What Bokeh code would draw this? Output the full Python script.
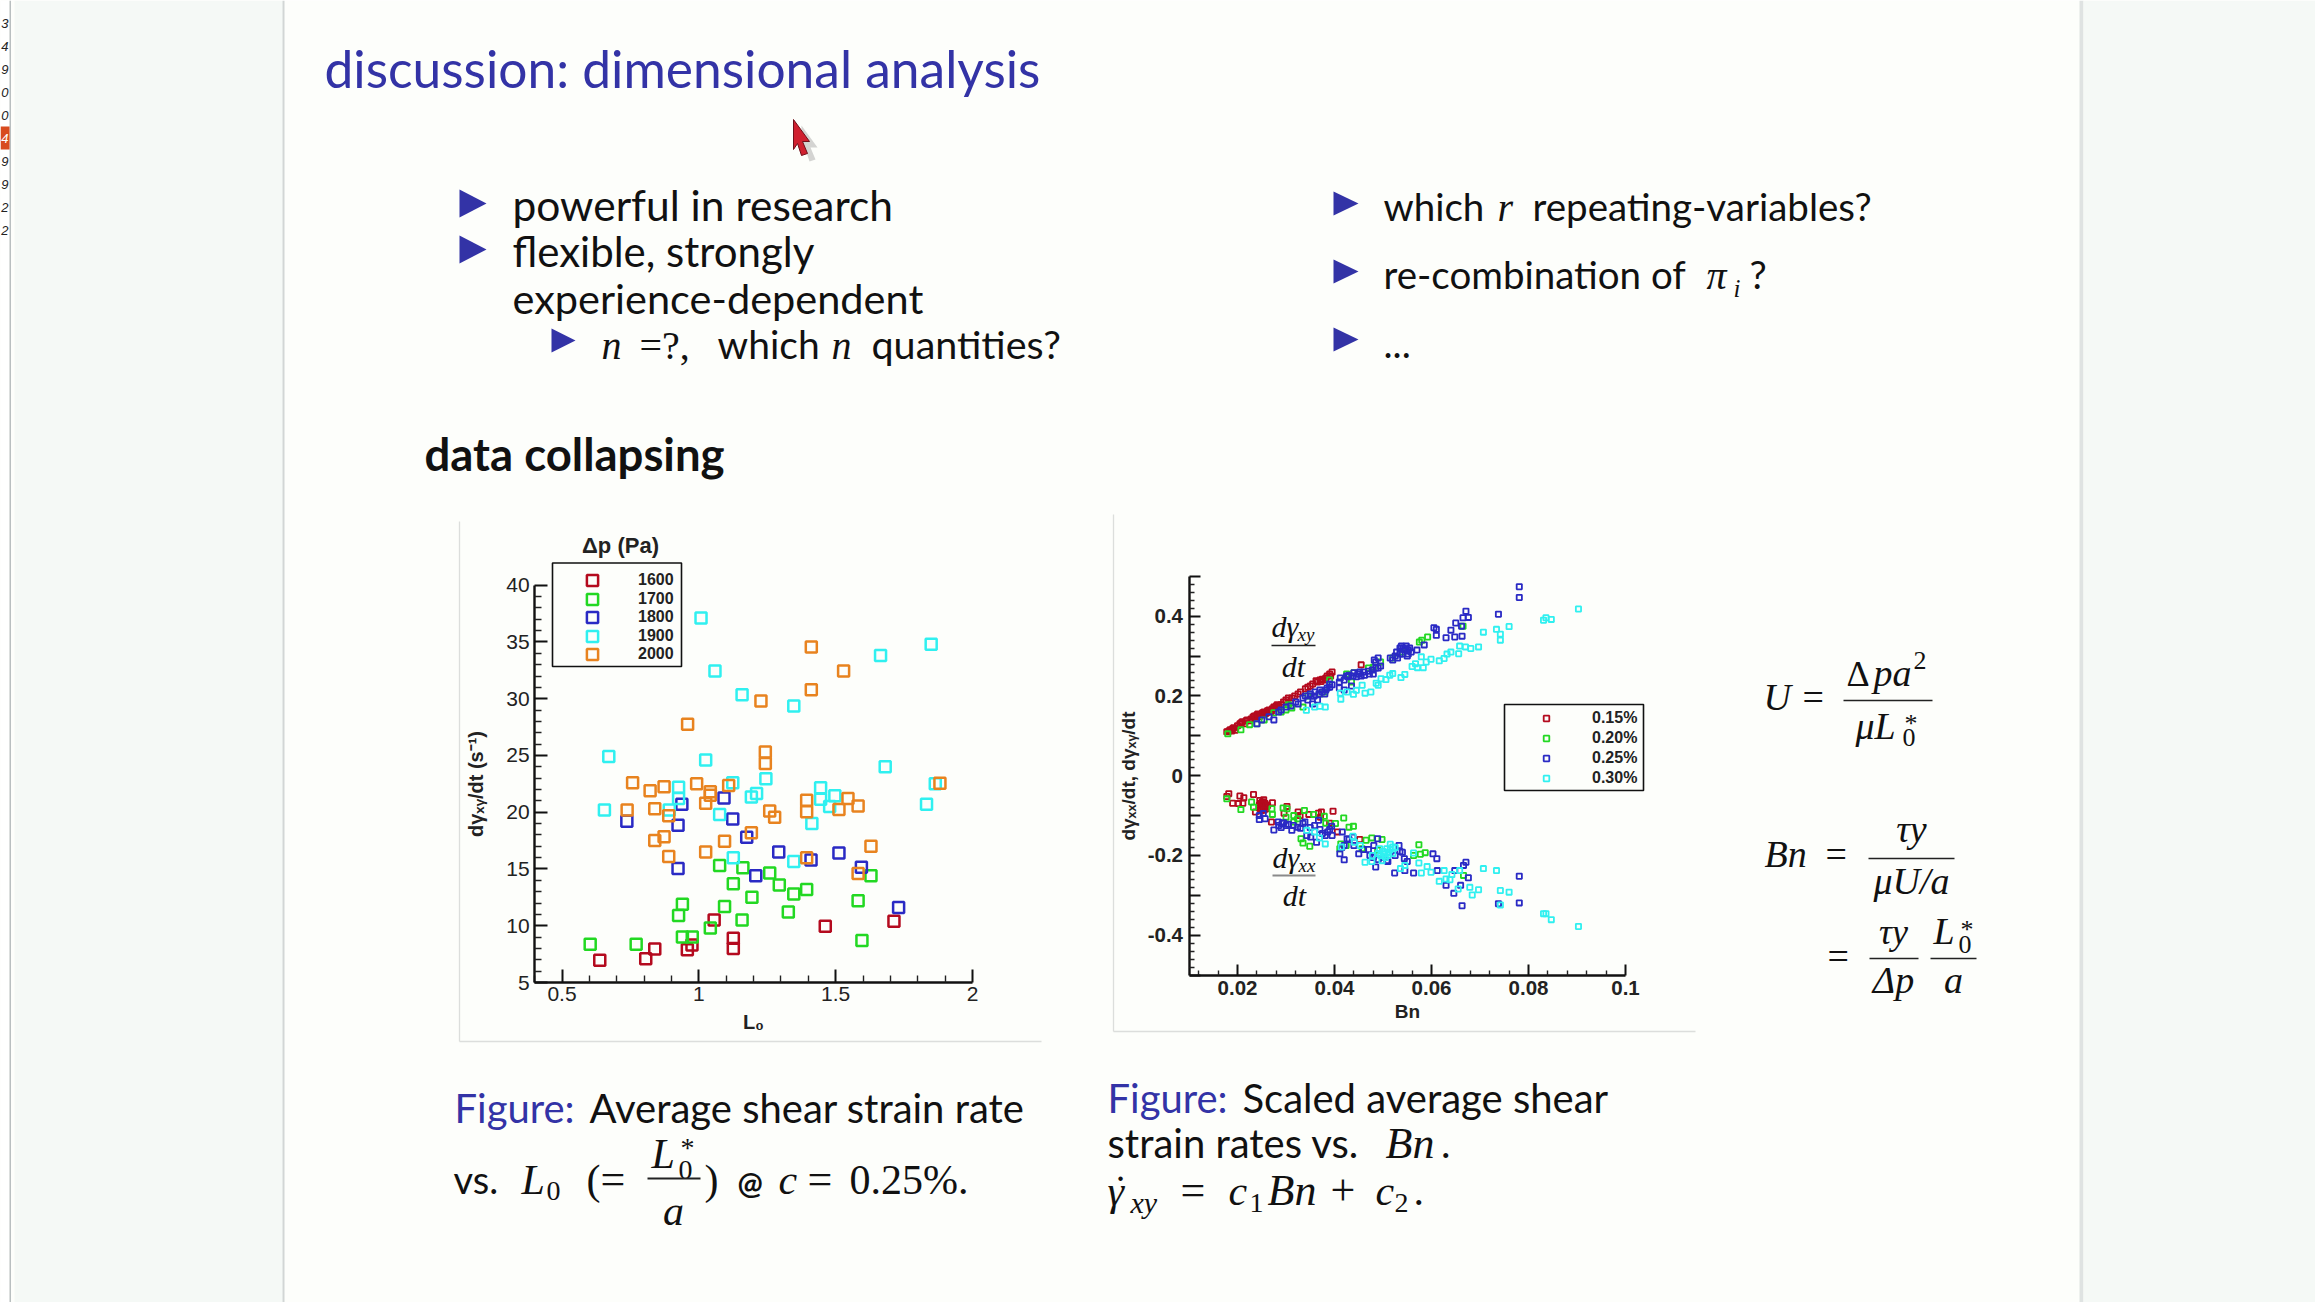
from bokeh.plotting import figure
from bokeh.embed import file_html
from bokeh.resources import INLINE
from bokeh.core.properties import value
from bokeh.models import Range1d, LinearAxis, FixedTicker, Legend, LegendItem

# ---------- chart 1 data ----------
series1_names = ["1600", "1700", "1800", "1900", "2000"]
red_L0 = [.638,.806,.839,.958,.975,1.056,1.126,1.126,1.462,1.713]
red_rate = [6.97,7.1,7.95,7.88,8.3,10.5,8.9,8.0,9.95,10.4]
green_L0 = [.603,.771,.926,.94,.94,.976,1.042,1.094,1.158,1.194,1.076,1.126,1.161,1.259,1.294,1.347,1.327,1.394,1.582,1.596,1.629]
green_rate = [8.38,8.38,10.9,11.9,9.0,9.0,9.8,11.7,10.5,12.5,15.3,13.7,15.1,14.65,13.6,12.8,11.2,13.2,12.2,8.7,14.4]
blue_L0 = [.737,.924,.938,.924,1.092,1.124,1.175,1.208,1.292,1.41,1.512,1.594,1.73]
blue_rate = [19.2,18.85,20.7,15.05,21.25,19.4,17.8,14.4,16.5,15.8,16.4,15.15,11.6]
cyan_L0 = [.655,.671,.926,.926,.892,1.008,1.059,1.025,1.076,1.124,1.126,1.158,1.192,1.211,1.245,1.347,1.347,1.413,1.445,1.445,1.478,1.497,1.664,1.681,1.832,1.849,1.864]
cyan_rate = [20.2,24.9,22.2,21.2,20.2,37.1,32.45,24.6,19.8,22.6,16,30.35,21.35,21.65,22.95,29.35,15.65,19,22.15,21.15,20.5,21.45,33.8,24,20.7,34.8,22.5]
orange_L0 = [.738,.758,.822,.839,.839,.873,.873,.89,.89,.959,.992,1.025,1.042,1.042,1.094,1.025,1.109,1.192,1.227,1.243,1.243,1.259,1.277,1.394,1.394,1.394,1.411,1.411,1.512,1.529,1.545,1.582,1.582,1.629,1.881]
orange_rate = [20.2,22.6,21.9,20.3,17.5,22.25,17.85,19.7,16.1,27.75,22.5,20.8,21.8,21.5,17.45,16.5,22.35,18.2,29.8,25.3,24.3,20.1,19.55,21.05,20.05,16,34.55,30.8,20.25,32.45,21.2,20.55,14.6,17,22.55]

# ---------- chart 2 data ----------
series2_names = ["0.15%", "0.20%", "0.25%", "0.30%"]
red_bn = [.0178,.0185,.019,.0195,.0205,.021,.0215,.022,.0225,.0235,.024,.0245,.025,.0255,.026,.0265,.027,.0275,.028,.0285,.0295,.030,.0305,.0325,.0345,.0365,.037,.0375,.038,.0385,.039,.0395,.0455,
          .0182,.0188,.0192,.02,.0208,.0218,.0228,.0232,.0238,.0242,.0248,.0252,.0258,.0262,.0268,.0272,.0278,.0282,.029,.03,.0312,.0318,.033,.034,.035,.0355,.0362,.0372,.0382,.0392,
          .0178,.0182,.019,.0205,.0202,.0213,.0211,.0233,.0237,.0246,.0253,.0245,.0257,.0249,.0259,.0254,.0272,.027,.0296,.0302,.0325,.0329,.0347,.0367,.0373,.0397,.039,.0406,.0452,.0371,
          .0248,.0252,.0256,.0251,.0258,.0262,.0245,.0249,.0255]
red_gamma = [.11,.115,.118,.114,.13,.135,.13,.14,.138,.15,.152,.148,.155,.16,.158,.165,.162,.172,.175,.172,.185,.19,.195,.205,.222,.235,.24,.242,.24,.25,.255,.26,.278,
             .112,.112,.12,.125,.133,.138,.142,.147,.148,.155,.152,.158,.156,.163,.16,.168,.17,.178,.178,.185,.195,.2,.21,.218,.225,.23,.238,.236,.245,.25,
             -.052,-.045,-.069,-.051,-.07,-.055,-.069,-.047,-.091,-.062,-.066,-.074,-.07,-.083,-.083,-.06,-.068,-.116,-.094,-.077,-.091,-.1,-.097,-.094,-.091,-.089,-.119,-.141,-.16,-.104,
             -.07,-.078,-.072,-.066,-.078,-.075,-.081,-.088,-.086]
green_bn = [.018,.0207,.0225,.024,.0255,.0275,.029,.030,.0312,.0305,.0335,.0345,.037,.038,.039,.0425,.0435,.044,.047,.048,.0495,.0575,.058,.0592,.0665,.052,.054,
            .0178,.0207,.0229,.0233,.0271,.0272,.0294,.0302,.03,.0316,.0324,.0338,.0331,.0335,.0349,.0357,.0379,.0382,.0402,.0419,.043,.0439,.0413,.0411,.0424,.0465,.0477,.0498,.0574,.0577,.0587,.0563,.0666,.0457,.0489,.0316]
green_gamma = [.105,.115,.128,.13,.14,.158,.16,.165,.17,.178,.172,.2,.205,.21,.24,.255,.235,.258,.27,.272,.285,.335,.34,.348,.375,.295,.31,
               -.058,-.085,-.066,-.079,-.083,-.097,-.081,-.083,-.104,-.1,-.108,-.087,-.158,-.169,-.177,-.097,-.102,-.119,-.12,-.106,-.129,-.127,-.171,-.183,-.175,-.162,-.156,-.16,-.173,-.197,-.193,-.2,-.25,-.183,-.187,-.116]
blue_bn = [.024,.025,.0265,.0275,.0285,.029,.03,.031,.032,.0335,.034,.035,.0355,.036,.0365,.037,.038,.0385,.039,.041,.041,.042,.0425,.043,.0435,.044,.0445,.045,.0455,.046,.047,.048,.0485,.049,.0495,.0485,.052,.0525,.053,.0535,.054,.0545,.055,.0555,.0552,.057,.0585,
           .0412,.042,.0428,.0438,.0448,.0452,.0462,.0472,.0478,.049,.0482,.0515,.0528,.0535,.0538,.0542,.0548,.0552,.0558,.0325,.0345,.0352,.0358,.0368,.0375,.0382,.039,.0395,
           .0605,.061,.061,.063,.064,.0648,.065,.0663,.0662,.0665,.0671,.0676,.0738,.0781,.0781,
           .0245,.0245,.0257,.0253,.0275,.0284,.0292,.03,.0312,.0324,.0339,.0343,.0351,.0363,.0359,.0367,.0381,.0386,.0394,.0411,.042,.0416,.0426,.0438,.045,.0473,.0485,.0481,.0489,.0508,.0524,.0533,.054,.0544,.0545,.0563,.0603,.0611,.0612,.063,.0646,.0648,.066,.0663,.0666,.0671,.0676,.0738,.0781,.0781,
           .0285,.029,.0295,.0305,.0315,.033,.0335,.035,.037,.0375,.039,.0395,.042,.0415,.043,.044,.046,.047,.048,.049,.05,.051,.0525,.0535,.055]
blue_gamma = [.13,.14,.148,.14,.16,.165,.172,.175,.185,.195,.2,.205,.18,.21,.19,.215,.205,.22,.23,.235,.22,.215,.25,.252,.225,.258,.248,.255,.25,.26,.262,.255,.285,.295,.275,.27,.29,.3,.295,.32,.305,.315,.3,.32,.305,.315,.328,
              .245,.24,.248,.25,.255,.26,.252,.255,.265,.27,.29,.295,.31,.305,.325,.32,.325,.315,.31,.18,.19,.2,.2,.205,.21,.215,.222,.228,
              .371,.352,.367,.346,.365,.348,.383,.35,.375,.396,.4125,.397,.405,.447,.474,
              -.1,-.11,-.108,-.095,-.136,-.116,-.12,-.125,-.137,-.129,-.116,-.15,-.154,-.167,-.125,-.112,-.15,-.141,-.127,-.196,-.211,-.141,-.158,-.154,-.196,-.2,-.229,-.175,-.158,-.213,-.244,-.175,-.192,-.208,-.238,-.244,-.196,-.208,-.238,-.275,-.295,-.238,-.275,-.326,-.225,-.217,-.256,-.321,-.252,-.319,
              -.125,-.13,-.118,-.122,-.125,-.132,-.12,-.13,-.135,-.145,-.135,-.15,-.175,-.18,-.16,-.175,-.185,-.185,-.205,-.21,-.205,-.215,-.2,-.19,-.215]
cyan_bn = [.0342,.0359,.037,.0381,.0413,.0412,.0426,.0439,.0445,.0457,.0463,.0475,.0486,.049,.0496,.0506,.0514,.052,.0537,.0545,.056,.0567,.0571,.0579,.0583,.0589,.0599,.0616,.0626,.0632,.064,.0656,.0658,.067,.0681,.0697,.0707,.0734,.0742,.0742,.076,.0831,.0836,.0847,.0903,
           .0343,.0359,.0369,.0381,.0414,.0438,.0441,.0453,.0463,.0477,.0493,.0498,.0503,.0508,.0515,.0512,.052,.0536,.0545,.0563,.0574,.0579,.0591,.0599,.0616,.0626,.063,.0638,.0642,.0655,.0658,.0679,.0684,.0697,.0707,.0734,.0742,.0742,.076,.0831,.0836,.0847,.0903,
           .049,.0495,.05,.0505,.051,.052,.0515,.0525,.0478]
cyan_gamma = [.164,.172,.174,.172,.192,.207,.21,.204,.214,.227,.207,.21,.232,.227,.243,.241,.252,.256,.246,.254,.274,.281,.271,.298,.271,.285,.292,.288,.294,.305,.31,.306,.325,.323,.319,.323,.36,.367,.355,.34,.374,.39,.396,.392,.418,
              -.137,-.141,-.156,-.171,-.179,-.152,-.167,-.175,-.217,-.215,-.183,-.213,-.196,-.183,-.172,-.192,-.179,-.233,-.225,-.194,-.219,-.244,-.228,-.242,-.265,-.238,-.259,-.261,-.248,-.284,-.238,-.28,-.299,-.286,-.233,-.238,-.288,-.324,-.292,-.346,-.346,-.361,-.378,
              -.195,-.2,-.19,-.205,-.2,-.195,-.185,-.18,-.2]

# ---------- ticks ----------
x1_ticks = [.5, 1, 1.5, 2]
x1_labels = ["0.5", "1", "1.5", "2"]
x1_minor = [.4,.6,.7,.8,.9,1.1,1.2,1.3,1.4,1.6,1.7,1.8,1.9]
y1_ticks = [5,10,15,20,25,30,35,40]
y1_minor = [6,7,8,9,11,12,13,14,16,17,18,19,21,22,23,24,26,27,28,29,31,32,33,34,36,37,38,39]
x2_ticks = [.02,.04,.06,.08,.1]
x2_minor = [.012,.016,.024,.028,.032,.036,.044,.048,.052,.056,.064,.068,.072,.076,.084,.088,.092,.096]
y2_ticks = [-.5,-.4,-.3,-.2,-.1,0,.1,.2,.3,.4,.5]
y2_labels = ["","-0.4","","-0.2","","0","","0.2","","0.4",""]
y2_minor = [-.48,-.46,-.44,-.42,-.38,-.36,-.34,-.32,-.28,-.26,-.24,-.22,-.18,-.16,-.14,-.12,-.08,-.06,-.04,-.02,
            .02,.04,.06,.08,.12,.14,.16,.18,.22,.24,.26,.28,.32,.34,.36,.38,.42,.44,.46,.48]

RED, GREEN, BLUE, CYAN, ORANGE = "#b40a1e", "#22d822", "#2a2ac4", "#30f0f0", "#e8831f"
W, H = 2315, 1302
SLIDE, SIDE, EDGE = "#fdfefb", "#f5f9f6", "#d2d6d5"
NAVY = "#3333a6"
SANS, SERIF, ARIAL = "Lato", "Liberation Serif", "Liberation Sans"
# vertical correction of the text glyph's baseline, as a share of the font size
BASE_SHIFT = {SANS: .35, SERIF: .3, ARIAL: .3}

p = figure(width=W, height=H, x_range=Range1d(0, W), y_range=Range1d(H, 0), toolbar_location=None,
           output_backend="svg", min_border=0, background_fill_color=SLIDE, border_fill_color=SLIDE,
           outline_line_color=None)
p.xaxis.visible = False
p.yaxis.visible = False
p.xgrid.visible = False
p.ygrid.visible = False

# page furniture
p.quad(left=[0, 14, 282, 2079, 2083], right=[9, 282, 284, 2083, W], top=[0]*5, bottom=[H]*5,
       fill_color=["#ffffff", SIDE, EDGE, "#dfe3e2", SIDE], line_color=None)
p.quad(left=[9], right=[10.5], top=[0], bottom=[H], fill_color="#b9bfc0", line_color=None)
p.quad(left=[0], right=[9], top=[126], bottom=[149], fill_color="#d84b1f", line_color=None)

page_numbers = ["3", "4", "9", "0", "0", "4", "9", "9", "2", "2"]
for i, s in enumerate(page_numbers):
    p.text(x=[8], y=[22.5 + 23*i], text=[s], text_font=value(ARIAL), text_font_style="italic", text_font_size="13px",
           text_color="#ffffff" if i == 5 else "#222222", text_align="right", text_baseline="alphabetic")


def t(x, y, s, size=34, color="#111111", font=SANS, style="normal", align="left"):
    p.text(x=[x], y=[y - BASE_SHIFT[font]*size], text=[s], text_font=value(font), text_font_size=f"{size}px",
           text_font_style=style, text_color=color, text_align=align, text_baseline="alphabetic")


def m(x, y, s, size=34, align="left", style="italic"):
    t(x, y, s, size, "#111111", SERIF, style, align)


def tri(x0, x1, yc, h):
    p.patch([x0, x1, x0], [yc - h/2, yc, yc + h/2], fill_color=NAVY, line_color=None)


def bar(x0, x1, y, color="#222222", w=1.6):
    p.segment([x0], [y], [x1], [y], line_color=color, line_width=w)


# title and bullets
t(324, 86, "discussion: dimensional analysis", 51.5, NAVY)
cursor_x = [793, 809, 802, 807, 801, 797, 793]
cursor_y = [119, 141, 141, 153, 155, 143, 149]
p.patch([v + 8 for v in cursor_x], [v + 6 for v in cursor_y], fill_color="#888888", fill_alpha=.35, line_color=None)
p.patch(cursor_x, cursor_y, fill_color="#d0202f", line_color="#70101a", line_width=1)
tri(459, 486, 203, 28); tri(459, 486, 249, 28); tri(551, 575, 340, 24)
t(512, 219, "powerful in research", 42.5)
t(512, 265, "flexible, strongly", 42)
t(512, 312, "experience-dependent", 41.5)
m(601, 357, "n", 40); m(639, 357, "=?,", 40, style="normal"); t(717, 357, "which", 39); m(831, 357, "n", 40)
t(871, 357, "quantities?", 39.5)
t(424, 469, "data collapsing", 45.5, style="bold")
tri(1333, 1358, 203, 24); tri(1333, 1358, 271, 24); tri(1333, 1358, 339, 24)
t(1383, 219, "which", 38.5); m(1497, 219, "r", 40); t(1532, 219, "repeating-variables?", 38.5)
t(1383, 287, "re-combination of", 38.5); m(1706, 287, "π", 40); m(1733, 295, "i", 25); t(1749, 287, "?", 38.5)
t(1383, 357, "...", 38.5)

# captions
t(454, 1121, "Figure:", 40, NAVY); t(589, 1121, "Average shear strain rate", 40)
t(453, 1192, "vs.", 38); m(521, 1192, "L", 42); m(546, 1199, "0", 28, style="normal")
m(586, 1192, "(", 42, style="normal"); m(600, 1192, "=", 44, style="normal")
m(651, 1166, "L", 42); m(680, 1155, "*", 28, style="normal"); m(678, 1178, "0", 28, style="normal")
bar(647, 700, 1178, w=2); m(673, 1223, "a", 42, "center")
m(704, 1192, ")", 42, style="normal"); t(737, 1192, "@", 30, style="bold")
m(778, 1192, "c", 42); m(807, 1192, "=", 44, style="normal"); m(849, 1192, "0.25%.", 42, style="normal")

t(1107, 1111, "Figure:", 40, NAVY); t(1242, 1111, "Scaled average shear", 40)
t(1107, 1156, "strain rates vs.", 40); m(1385, 1156, "Bn", 44); m(1440, 1156, ".", 42, style="normal")
m(1107, 1203, "γ", 42); m(1113, 1203, "˙", 42, style="normal"); m(1130, 1211, "xy", 30)
m(1180, 1203, "=", 44, style="normal"); m(1228, 1203, "c", 42)
m(1249, 1211, "1", 28, style="normal"); m(1267, 1203, "Bn", 44); m(1330, 1203, "+", 44, style="normal")
m(1375, 1203, "c", 42); m(1394, 1211, "2", 28, style="normal"); m(1413, 1203, ".", 42, style="normal")

# right formulas
m(1763, 708, "U", 38); m(1802, 708, "=", 38, style="normal")
m(1846, 684, "Δ", 36, style="normal"); m(1873, 684, "pa", 38); m(1913, 668, "2", 26, style="normal")
bar(1843, 1932, 700); m(1855, 737, "μL", 38); m(1904, 731, "*", 26, style="normal"); m(1902, 745, "0", 26, style="normal")
m(1764, 865, "Bn", 38); m(1825, 865, "=", 38, style="normal")
m(1911, 840, "τy", 38, "center"); bar(1868, 1954, 858); m(1911, 892, "μU/a", 38, "center")
m(1827, 967, "=", 38, style="normal")
m(1893, 942, "τy", 36, "center"); bar(1869, 1918, 958); m(1893, 991, "Δp", 38, "center")
m(1933, 942, "L", 38); m(1960, 937, "*", 26, style="normal"); m(1958, 952, "0", 26, style="normal")
bar(1930, 1976, 958); m(1953, 991, "a", 38, "center")

# image panels of the two figures
p.segment([459, 459, 1113, 1113], [521, 1041, 514, 1031], [459, 1041, 1113, 1695], [1041, 1041, 1031, 1031],
          line_color="#dcdedc", line_width=1.3)

# chart scales: the page frame expressed in data units, one pair per chart
x1_per_px = (2 - .5) / (972 - 561.5)
y1_per_px = 35 / (982 - 584.7)
p.extra_x_ranges["c1"] = Range1d(.5 - 561.5*x1_per_px, .5 + (W - 561.5)*x1_per_px)
p.extra_y_ranges["c1"] = Range1d(40 - (H - 584.7)*y1_per_px, 40 + 584.7*y1_per_px)
x2_per_px = (.1 - .02) / (1625 - 1237)
y2_per_px = .8 / (934.7 - 615.7)
p.extra_x_ranges["c2"] = Range1d(.02 - 1237*x2_per_px, .02 + (W - 1237)*x2_per_px)
p.extra_y_ranges["c2"] = Range1d(.4 - (H - 615.7)*y2_per_px, .4 + 615.7*y2_per_px)


def axes(key, xloc, yloc, xb, yb, xticks, xminor, yticks, yminor, xlab, ylab, xo, yo, bold, size, xlabel, ylabel,
         maj, mnr, st, label_size):
    style = "bold" if bold else "normal"
    for side, ticks, minor, over, bounds, loc, lab in (("below", xticks, xminor, xlab, xb, yloc, xlabel),
                                                       ("left", yticks, yminor, ylab, yb, xloc, ylabel)):
        a = LinearAxis(x_range_name=key, y_range_name=key, fixed_location=loc, bounds=bounds,
                       ticker=FixedTicker(ticks=ticks, minor_ticks=minor),
                       major_label_overrides=over, axis_label=lab,
                       major_tick_in=maj, major_tick_out=0, minor_tick_in=mnr, minor_tick_out=0,
                       axis_line_width=2.4, major_tick_line_width=2, minor_tick_line_width=1.4,
                       axis_line_color="#111111", major_tick_line_color="#111111", minor_tick_line_color="#222222",
                       major_label_text_font=ARIAL, major_label_text_font_size=f"{size}px",
                       major_label_text_font_style=style, major_label_text_color="#222222",
                       major_label_standoff=xo if side == "below" else yo,
                       axis_label_text_font=ARIAL, axis_label_text_font_size=f"{label_size}px",
                       axis_label_text_font_style="bold", axis_label_text_color="#222222",
                       axis_label_standoff=st[0] if side == "below" else st[1])
        if side == "left":
            a.major_label_orientation = "horizontal"
        p.add_layout(a, side)


axes("c1", .4, 5, (.4, 2), (5, 40), x1_ticks, x1_minor, y1_ticks, y1_minor,
     dict(zip(x1_ticks, x1_labels)), {v: str(v) for v in y1_ticks}, 4, 5, False, 21,
     "L₀", "dγₓᵧ/dt (s⁻¹)", 13, 7, (7, 16), 20)
axes("c2", .01, -.5, (.01, .1), (-.5, .5), x2_ticks, x2_minor, y2_ticks, y2_minor,
     {v: f"{v:g}" for v in x2_ticks}, dict(zip(y2_ticks, y2_labels)), 6, 6, True, 20.5,
     "Bn", "dγₓₓ/dt, dγₓᵧ/dt", 11, 5, (2, 6), 19)

# chart 1 marks
r1 = []
for xs, ys, c in ((red_L0, red_rate, RED), (green_L0, green_rate, GREEN), (blue_L0, blue_rate, BLUE),
                  (cyan_L0, cyan_rate, CYAN), (orange_L0, orange_rate, ORANGE)):
    r1.append(p.scatter(xs, ys, marker="square", size=11, fill_color=None, line_color=c, line_width=2.5,
                        x_range_name="c1", y_range_name="c1"))
# chart 2 marks
r2 = []
for xs, ys, c in ((red_bn, red_gamma, RED), (green_bn, green_gamma, GREEN), (blue_bn, blue_gamma, BLUE),
                  (cyan_bn, cyan_gamma, CYAN)):
    r2.append(p.scatter(xs, ys, marker="square", size=5.2, fill_color=None, line_color=c, line_width=1.8,
                        x_range_name="c2", y_range_name="c2"))

# legends
p.quad(left=[552, 1504], right=[681, 1643], top=[562.5, 704], bottom=[666, 790], fill_color=None,
       line_color="#111111", line_width=1.6)
t(620, 552, "Δp (Pa)", 22, "#222222", ARIAL, "bold", "center")


def legend(renderers, names, x, ybottom, box, standoff, spacing):
    leg = Legend(items=[LegendItem(label=n, renderers=[r]) for n, r in zip(names, renderers)],
                 location=(x, H - ybottom),
                 border_line_color=None, background_fill_alpha=0, padding=0, margin=0,
                 glyph_width=box, glyph_height=box, label_standoff=standoff, spacing=spacing,
                 label_text_font=ARIAL, label_text_font_size="16px", label_text_font_style="bold",
                 label_text_color="#222222", label_height=14)
    p.add_layout(leg, "center")


# the keys of chart 1 are larger than their row height, so each row is its own legend
for i, (rend, name) in enumerate(zip(r1, series1_names)):
    legend([rend], [name], 578, 594 + 18.5*i, 28, 32, 0)
legend(r2, series2_names, 1539, 787, 14, 39, 2)

# annotations inside chart 2
m(1271, 635, "dγ", 30); m(1297, 640, "xy", 19); bar(1271, 1315, 645); m(1293, 675, "dt", 30, "center")
m(1272, 866, "dγ", 30); m(1298, 871, "xx", 19); bar(1272, 1315, 875, "#8a8a8a", 2); m(1294, 904, "dt", 30, "center")

open("out.html", "w").write(file_html(p, INLINE))
